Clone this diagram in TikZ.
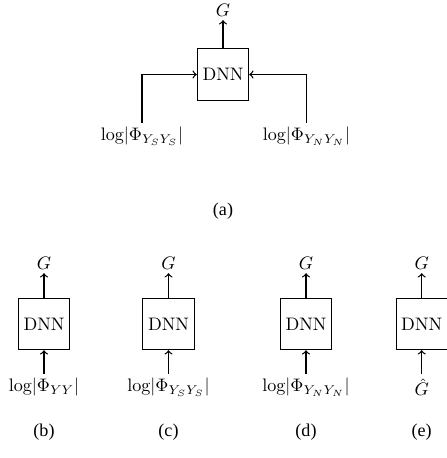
\documentclass[tikz,border=0pt]{standalone}
\usepackage{fontspec}
\newfontfamily\capfont{Liberation Serif}
\begin{document}
\begin{tikzpicture}[x=0.5525pt,y=-0.5525pt,
  dnn/.style={draw, line width=0.5pt, minimum size=1cm, inner sep=0pt},
  lab/.style={inner sep=2pt},
  conn/.style={->, line width=0.7pt},
  captext/.style={font=\capfont}]
\useasboundingbox (0,0) rectangle (446,458);
% (a)
\node[dnn] (A) at (223,74.5) {DNN};
\node[lab] (AG) at (223,10) {$G$};
\node[lab] (AL) at (142,136) {$\mathrm{log}|\Phi_{Y_SY_S}|$};
\node[lab] (AR) at (306.5,136) {$\mathrm{log}|\Phi_{Y_NY_N}|$};
\draw[conn] (A.north) -- (AG.south);
\draw[conn] (AL.north) |- (A.west);
\draw[conn] (AR.north) |- (A.east);
\node[captext] (capa) at (223,211) {(a)};
% (b)-(e)
\foreach \n/\x/\t/\c in {B/44/{$\mathrm{log}|\Phi_{YY}|$}/(b), C/168.5/{$\mathrm{log}|\Phi_{Y_SY_S}|$}/(c), D/306/{$\mathrm{log}|\Phi_{Y_NY_N}|$}/(d), E/421.7/{$\hat{G}$}/(e)}{
  \node[dnn] (\n) at (\x,324) {DNN};
  \node[lab] (\n G) at (\x,263) {$G$};
  \node[lab] (\n I) at (\x,387) {\t};
  \draw[conn] (\n.north) -- (\n G.south);
  \draw[conn] (\n I.north) -- (\n.south);
  \node[captext] (\n cap) at (\x,432) {\c};
}
\end{tikzpicture}
\end{document}
